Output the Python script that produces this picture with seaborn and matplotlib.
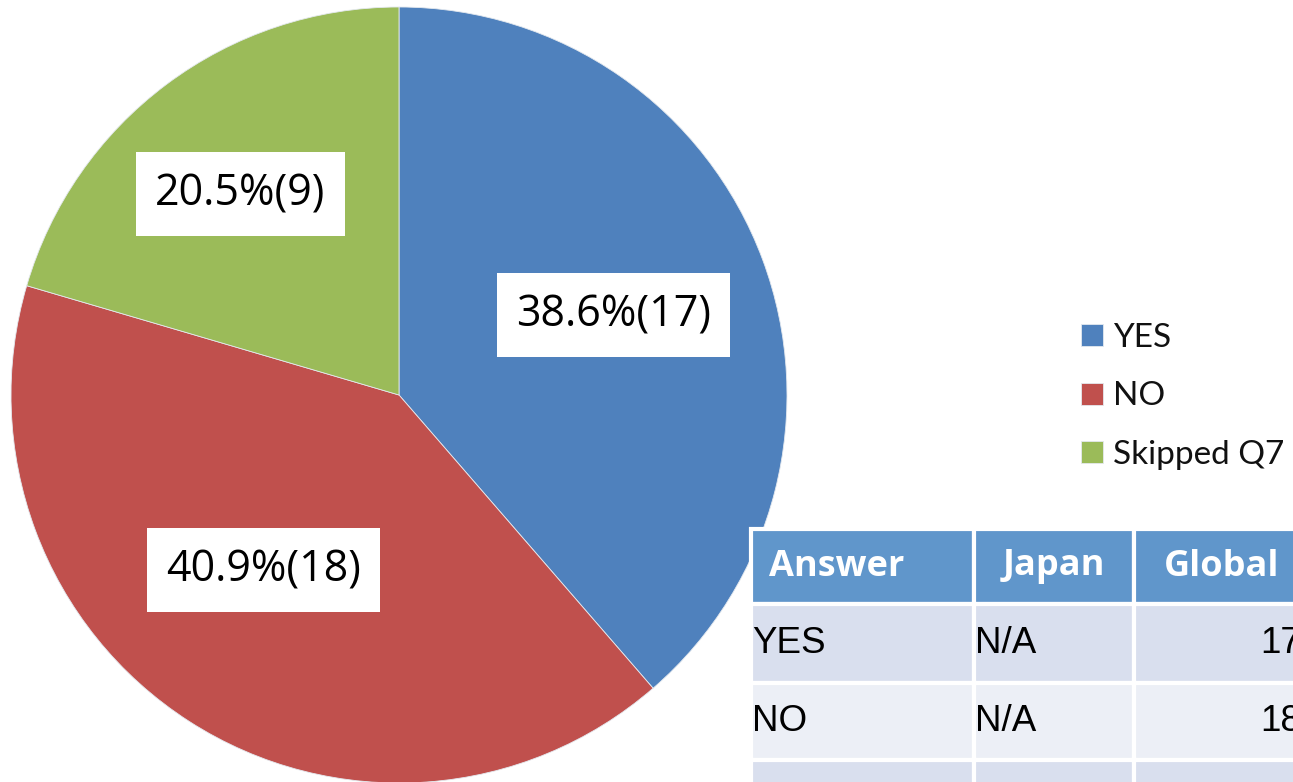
import numpy as np
import matplotlib.pyplot as plt
import seaborn as sns

# data
answers = ["YES", "NO", "Skipped Q7"]
counts = [17, 18, 9]
japan = ["N/A", "N/A", "N/A"]
table_cols = ["Answer", "Japan", "Global"]

colors = ["#4F81BD", "#C0504D", "#9BBB59"]

sns.set_theme(style="white")
plt.rcParams["font.family"] = ["Open Sans", "DejaVu Sans"]

fig = plt.figure(figsize=(12.93, 7.82), dpi=100)

# pie, centre (399,395) px, radius 388 px
W, H = 1293, 782
cx, cy, r = 399, 395, 388
ax = fig.add_axes([(cx - r) / W, (H - cy - r) / H, 2 * r / W, 2 * r / H])
total = sum(counts)
wedges, texts, autotexts = ax.pie(
    counts, colors=colors, startangle=90, counterclock=False,
    autopct=lambda p: f"{p:.1f}%({round(p * total / 100)})",
    pctdistance=0.6, radius=1.0,
    wedgeprops=dict(linewidth=0.6, edgecolor="#e4e9ef"),
    textprops=dict(fontsize=31, color="black"))
ax.set_xlim(-1, 1)
ax.set_ylim(-1, 1)
ax.set_aspect("equal")

# label placement like Excel: distance from centre and small angle shift
label_dist = [0.59, 0.57, 0.66]
label_shift = [0.0, -5.0, 1.5]
for w, t, d, s in zip(wedges, autotexts, label_dist, label_shift):
    ang = np.deg2rad((w.theta1 + w.theta2) / 2 + s)
    t.set_position((d * np.cos(ang), d * np.sin(ang)))
    t.set_bbox(dict(boxstyle="square,pad=0.45", facecolor="white", edgecolor="none"))

# legend
leg = fig.legend(wedges, answers, loc="upper left",
                 bbox_to_anchor=(1051 / W, 1 - 293 / H),
                 frameon=False, handlelength=0.65, handleheight=0.65,
                 handletextpad=0.3, labelspacing=0.85,
                 prop=dict(family=["Lato", "DejaVu Sans"], size=24))
for t in leg.get_texts():
    t.set_color("#111111")

# table (runs off the right and bottom edges)
row_h = [75, 79, 77, 120]
tx0, tx1 = 751, 1310
ty0 = 529
ty1 = ty0 + sum(row_h)
tax = fig.add_axes([tx0 / W, (H - ty1) / H, (tx1 - tx0) / W, (ty1 - ty0) / H])
tax.axis("off")
cell_text = [[a, j, str(c)] for a, j, c in zip(answers, japan, counts)]
col_w = [223 / (tx1 - tx0), 160 / (tx1 - tx0), 176 / (tx1 - tx0)]
tbl = tax.table(cellText=cell_text, colLabels=table_cols, colWidths=col_w,
                bbox=[0, 0, 1, 1], cellLoc="left")
tbl.auto_set_font_size(False)
row_bg = ["#D9DFEE", "#ECEFF6", "#D9DFEE"]
for (row, col), cell in tbl.get_celld().items():
    cell.set_height(row_h[row] / sum(row_h))
    cell.set_edgecolor("white")
    cell.set_linewidth(3)
    txt = cell.get_text()
    if row == 0:
        cell.set_facecolor("#6096CB")
        txt.set_color("white")
        txt.set_fontweight("bold")
        txt.set_fontsize(26)
        if col == 0:
            cell._loc = "left"
            txt.set_horizontalalignment("left")
            cell.PAD = 0.08
        else:
            cell._loc = "center"
            txt.set_horizontalalignment("center")
    else:
        cell.set_facecolor(row_bg[row - 1])
        txt.set_color("black")
        txt.set_fontsize(26.5)
        txt.set_fontfamily(["Liberation Sans", "DejaVu Sans"])
        cell.PAD = 0.005
        if col == 2:
            cell._loc = "right"
            txt.set_horizontalalignment("right")
            cell.PAD = 0.05

fig.savefig("out.png", dpi=100)
